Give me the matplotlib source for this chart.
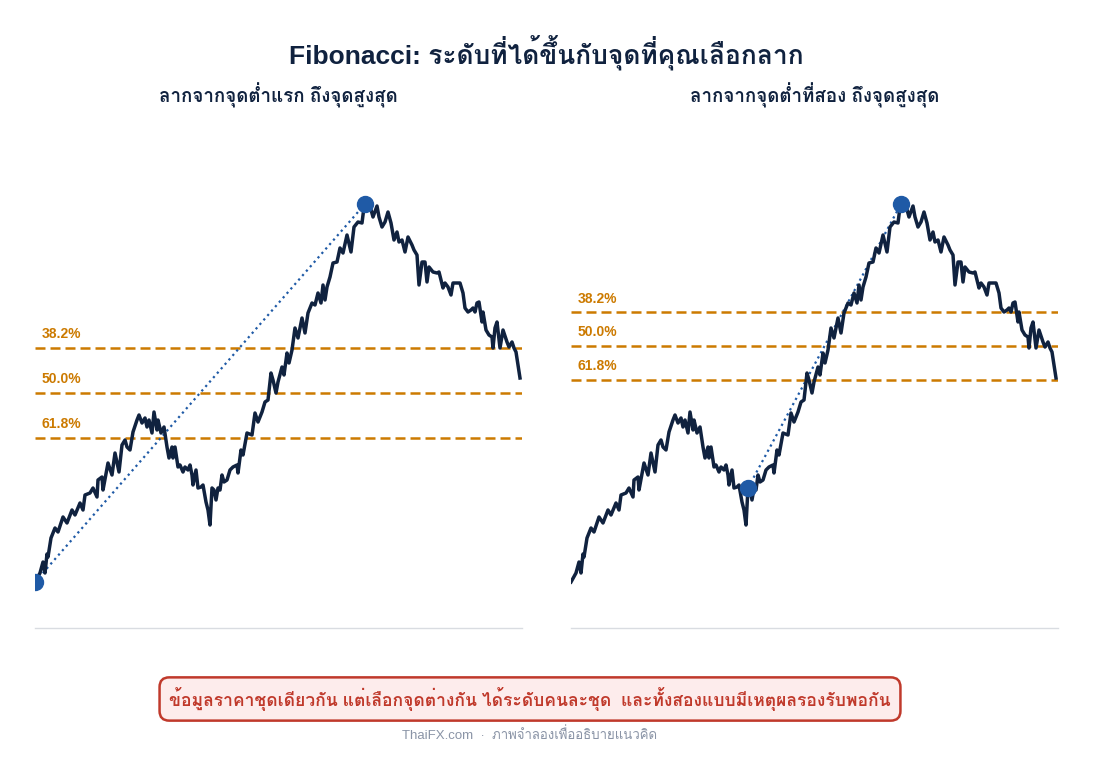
import numpy as np
import matplotlib
matplotlib.use('Agg')
import matplotlib.pyplot as plt

plt.rcParams['font.family'] = ['Liberation Sans', 'Loma']

# price path, day index and price
days = [0, 5, 8, 10, 12, 13, 16, 20, 23, 28, 32, 37, 40, 45, 48, 50, 55, 58, 62, 63,
        67, 68, 73, 77, 80, 84, 87, 90, 92, 95, 98, 102, 104, 107, 110, 112, 114, 117, 119, 122,
        123, 126, 129, 132, 134, 137, 138, 140, 143, 145, 148, 150, 153, 155, 157, 158, 161, 163, 166, 168,
        171, 173, 175, 177, 179, 181, 183, 185, 187, 189, 192, 195, 198, 202, 203, 206, 208, 212, 217, 220,
        223, 227, 230, 233, 236, 238, 241, 243, 247, 249, 252, 254, 257, 260, 263, 267, 270, 273, 277, 280,
        283, 286, 288, 290, 292, 295, 298, 302, 305, 308, 312, 316, 319, 323, 327, 329, 330, 332, 335, 338,
        342, 344, 347, 350, 353, 356, 359, 362, 364, 367, 370, 373, 377, 379, 382, 384, 387, 390, 392, 394,
        398, 402, 404, 408, 410, 413, 416, 418, 422, 425, 428, 430, 433, 436, 438, 440, 442, 444, 447, 448,
        451, 454, 457, 458, 460, 462, 465, 468, 472, 474, 477, 479, 481, 485]
price = [46, 55, 66, 55, 74, 71, 90, 100, 96, 111, 105, 118, 113, 125, 118, 133, 135, 140, 131, 148,
         151, 138, 165, 153, 175, 156, 183, 188, 181, 178, 196, 208, 213, 205, 210, 201, 208, 195, 216, 198,
         208, 195, 201, 181, 170, 181, 170, 181, 161, 163, 156, 161, 158, 163, 153, 143, 158, 140, 141, 143,
         126, 118, 103, 140, 138, 128, 140, 138, 153, 146, 148, 158, 161, 163, 155, 178, 173, 195, 193, 215,
         206, 216, 226, 228, 255, 248, 235, 246, 261, 253, 275, 265, 278, 300, 290, 310, 295, 315, 325, 323,
         335, 325, 343, 328, 341, 351, 365, 366, 380, 375, 393, 376, 401, 406, 405, 421, 424, 418, 422, 411,
         422, 411, 401, 406, 416, 405, 388, 396, 386, 388, 376, 391, 383, 378, 373, 343, 366, 366, 346, 361,
         356, 355, 356, 340, 345, 341, 333, 345, 345, 345, 335, 320, 316, 318, 320, 316, 325, 326, 306, 316,
         298, 293, 291, 280, 300, 306, 280, 298, 286, 281, 286, 280, 276, 250]

fib_ratios = [0.382, 0.5, 0.618]
fib_labels = ['38.2%', '50.0%', '61.8%']

titles = ['ลากจากจุดต่ำแรก ถึงจุดสูงสุด', 'ลากจากจุดต่ำที่สอง ถึงจุดสูงสุด']
low_days = [0, 177]

navy = '#10223F'
blue = '#1F5AA6'
orange = '#CC7A00'

days = np.array(days)
price = np.array(price)
hi_i = int(np.argmax(price))

fig = plt.figure(figsize=(10.93, 7.77), dpi=100)
lefts = [35 / 1093, 571 / 1093]
for k in range(2):
    ax = fig.add_axes([lefts[k], 1 - 628 / 777, 487 / 1093, 498 / 777])
    lo_i = int(np.where(days == low_days[k])[0][0])
    lo, hi = price[lo_i], price[hi_i]
    ax.plot(days, price, color=navy, lw=2.5, zorder=3, solid_joinstyle='round')
    ax.plot([days[lo_i], days[hi_i]], [lo, hi], color=blue, lw=1.6, ls=':', zorder=2)
    ax.plot([days[lo_i], days[hi_i]], [lo, hi], 'o', color=blue, ms=11.5, zorder=4)
    for r, lab in zip(fib_ratios, fib_labels):
        lvl = hi - r * (hi - lo)
        ax.axhline(lvl, color=orange, lw=1.8, ls=(0, (4, 2)), zorder=1)
        ax.annotate(lab, (6.5, lvl), xytext=(0, 5), textcoords='offset points',
                    color=orange, fontsize=10, fontweight='bold', va='bottom', ha='left')
    ax.set_xlim(0, 487)
    ax.set_ylim(0, 498)
    for s in ['left', 'right', 'top']:
        ax.spines[s].set_visible(False)
    ax.spines['bottom'].set_color('#D9DCE1')
    ax.spines['bottom'].set_linewidth(1)
    ax.set_xticks([])
    ax.set_yticks([])
    fig.text(lefts[k] + 0.5 * 487 / 1093, 1 - 95 / 777, titles[k], ha='center', va='center',
             fontsize=13.5, fontweight='bold', color=navy)

fig.text(0.5, 1 - 53 / 777, 'Fibonacci: ระดับที่ได้ขึ้นกับจุดที่คุณเลือกลาก', ha='center', va='center',
         fontsize=19, fontweight='bold', color=navy)
fig.text(530 / 1093, 1 - 699 / 777,
         'ข้อมูลราคาชุดเดียวกัน แต่เลือกจุดต่างกัน ได้ระดับคนละชุด  และทั้งสองแบบมีเหตุผลรองรับพอกัน',
         ha='center', va='center', fontsize=12.6, fontweight='bold', color='#C0392B',
         bbox=dict(boxstyle='round,pad=0.55', fc='#FDECEC', ec='#C0392B', lw=1.8))
fig.text(530 / 1093, 1 - 735 / 777, 'ThaiFX.com  ·  ภาพจำลองเพื่ออธิบายแนวคิด', ha='center', va='center',
         fontsize=9.5, color='#8A94A6')

fig.savefig('out.png')
